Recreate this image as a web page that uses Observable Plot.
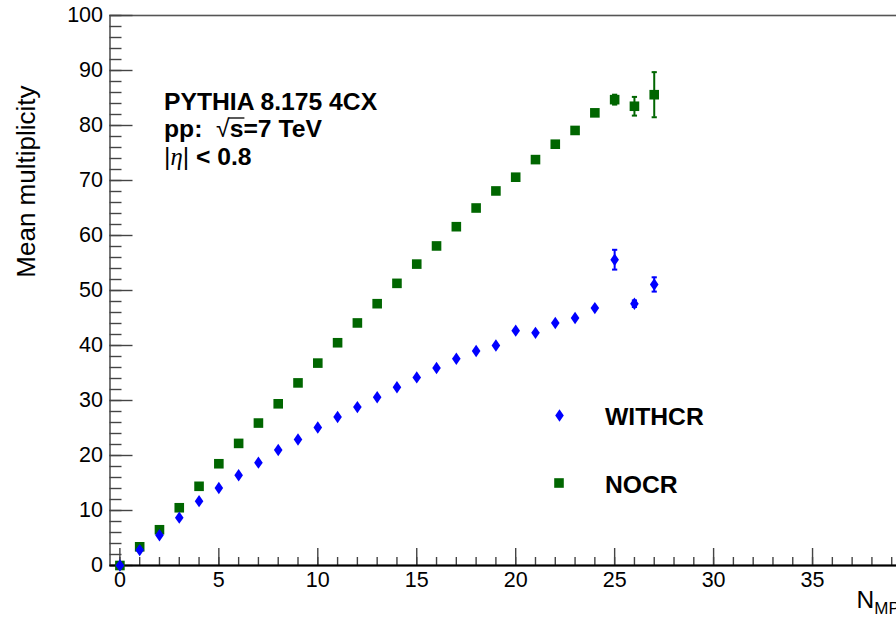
<!DOCTYPE html>
<html><head><meta charset="utf-8">
<script src="https://cdn.jsdelivr.net/npm/d3@7"></script>
<script src="https://cdn.jsdelivr.net/npm/@observablehq/plot@0.6"></script>
<style>
html,body{margin:0;padding:0;background:#fff;overflow:hidden;width:896px;height:617px;}
#chart{width:896px;height:617px;overflow:hidden;}
#chart svg{display:block;max-width:none !important;}
</style></head><body><div id="chart"></div>
<script>
// ---- data ----
const nmpi      = [0,1,2,3,4,5,6,7,8,9,10,11,12,13,14,15,16,17,18,19,20,21,22,23,24,25,26,27];
const withcr    = [0,2.8,5.5,8.7,11.7,14.1,16.4,18.7,21.0,22.9,25.1,27.0,28.8,30.6,32.4,34.2,35.9,37.6,39.0,40.0,42.7,42.3,44.1,45.0,46.8,55.6,47.6,51.1];
const withcrErr = [0,0,0,0,0,0,0,0,0,0,0,0,0,0,0,0,0,0,0,0,0,0,0,0,0,1.8,0.6,1.3];
const nocr      = [0,3.4,6.5,10.5,14.4,18.5,22.2,25.9,29.4,33.2,36.8,40.5,44.1,47.6,51.3,54.8,58.1,61.6,65.0,68.1,70.6,73.8,76.6,79.1,82.3,84.7,83.5,85.6];
const nocrErr   = [0,0,0,0,0,0,0,0,0,0,0,0,0,0,0,0,0,0,0,0,0,0,0,0,0,0.9,1.7,4.1];
const seriesNames = ["WITHCR", "NOCR"];
const xMajor  = [0,5,10,15,20,25,30,35,40];
const xLabels = [0,5,10,15,20,25,30,35];
const xMinor = [0,1,2,3,4,5,6,7,8,9,10,11,12,13,14,15,16,17,18,19,20,21,22,23,24,25,26,27,28,29,30,31,32,33,34,35,36,37,38,39,40];
const yMajor = [0,10,20,30,40,50,60,70,80,90,100];
const yMinor = [0,2,4,6,8,10,12,14,16,18,20,22,24,26,28,30,32,34,36,38,40,42,44,46,48,50,52,54,56,58,60,62,64,66,68,70,72,74,76,78,80,82,84,86,88,90,92,94,96,98,100];
const yTitle = "Mean multiplicity";
const xTitle = "NMPI";
const infoLines = ["PYTHIA 8.175 4CX", "pp:  \u221As=7 TeV", "|\u03B7| < 0.8"];

const BLUE = "#0000ff", GREEN = "#006600";

const rowsW = nmpi.map((n, i) => ({n, v: withcr[i], e: withcrErr[i]}));
const rowsN = nmpi.map((n, i) => ({n, v: nocr[i], e: nocrErr[i]}));

const diamond = {draw(c) { const w = 4.3, h = 6.2; c.moveTo(0, -h); c.lineTo(w, 0); c.lineTo(0, h); c.lineTo(-w, 0); c.closePath(); }};
const square  = {draw(c) { const s = 4.8; c.moveTo(-s, -s); c.lineTo(s, -s); c.lineTo(s, s); c.lineTo(-s, s); c.closePath(); }};
const cap     = {draw(c) { c.moveTo(-2.6, 0); c.lineTo(2.6, 0); }};

function errMarks(rows, color) {
  const r = rows.filter(d => d.e > 0);
  return [
    Plot.ruleX(r, {x: "n", y1: d => d.v - d.e, y2: d => d.v + d.e, stroke: color, strokeWidth: 2}),
    Plot.dot(r, {x: "n", y: d => d.v + d.e, symbol: cap, stroke: color, strokeWidth: 2, fill: "none"}),
    Plot.dot(r, {x: "n", y: d => d.v - d.e, symbol: cap, stroke: color, strokeWidth: 2, fill: "none"})
  ];
}

const FONT = "'Liberation Sans', Arial, Helvetica, sans-serif";
const TICK = "#444";
const TXT = {textAnchor: "start", lineAnchor: "middle", fontSize: 24.7, fontWeight: "bold", fontFamily: FONT, frameAnchor: "top-left"};

const plot = Plot.plot({
  width: 931, height: 617,
  marginLeft: 109.5, marginRight: 20, marginTop: 15, marginBottom: 52,
  style: {fontFamily: FONT, fontSize: "21.5px", background: "white", color: "black", overflow: "visible", maxWidth: "none"},
  x: {domain: [-0.5, 40]},
  y: {domain: [0, 100]},
  marks: [
    Plot.frame({stroke: "#555", strokeWidth: 1.6}),
    // y ticks (inward)
    Plot.axisY({ticks: yMinor, tickSize: 12, dx: 12, tickFormat: () => "", stroke: TICK, strokeWidth: 1.4, label: null}),
    Plot.axisY({ticks: yMajor, tickSize: 23, dx: 23, tickFormat: () => "", stroke: TICK, strokeWidth: 1.4, label: null}),
    Plot.axisY({ticks: yMajor, tickSize: 0, tickPadding: 7, label: null}),
    // x ticks (inward)
    Plot.axisX({ticks: xMinor, tickSize: 8, dy: -8, tickFormat: () => "", stroke: TICK, strokeWidth: 1.4, label: null}),
    Plot.axisX({ticks: xMajor, tickSize: 17, dy: -17, tickFormat: () => "", stroke: TICK, strokeWidth: 1.4, label: null}),
    Plot.axisX({ticks: xLabels, tickSize: 0, tickPadding: 6, label: null}),
    Plot.ruleY([0], {stroke: "black", strokeWidth: 2.2}),
    // axis titles
    Plot.text([yTitle], {frameAnchor: "top-left", dx: -83, dy: 70, rotate: -90, textAnchor: "end", lineAnchor: "middle", fontSize: 26, fontFamily: FONT}),
    Plot.text([xTitle], {frameAnchor: "bottom-right", dx: -7, dy: 35, textAnchor: "end", lineAnchor: "middle", fontSize: 24.5, fontFamily: FONT}),
    // data
    ...errMarks(rowsN, GREEN),
    ...errMarks(rowsW, BLUE),
    Plot.dot(rowsN, {x: "n", y: "v", symbol: square, fill: GREEN, stroke: "none"}),
    Plot.dot(rowsW, {x: "n", y: "v", symbol: diamond, fill: BLUE, stroke: "none"}),
    // info text
    Plot.text([infoLines[0]], {...TXT, dx: 54, dy: 87}),
    Plot.text([infoLines[1]], {...TXT, dx: 54, dy: 114}),
    Plot.text([infoLines[2]], {...TXT, dx: 54, dy: 142}),
    // legend
    Plot.dot([seriesNames[0]], {frameAnchor: "top-left", dx: 449.5, dy: 400, symbol: diamond, fill: BLUE, stroke: "none"}),
    Plot.dot([seriesNames[1]], {frameAnchor: "top-left", dx: 449, dy: 467.5, symbol: square, fill: GREEN, stroke: "none"}),
    Plot.text([seriesNames[0]], {...TXT, dx: 495, dy: 401.5}),
    Plot.text([seriesNames[1]], {...TXT, dx: 495, dy: 470})
  ]
});
document.getElementById("chart").appendChild(plot);

// rich text post-processing (subscript, greek, radical)
const svg = d3.select(plot);
function rebuild(match, parts) {
  svg.selectAll("text").filter(function() { return this.textContent === match; }).each(function() {
    const textEl = this;
    const t = d3.select(this).text(null).style("white-space", "pre");
    parts.forEach(p => {
      const s = t.append("tspan").text(p.t);
      if (p.w) s.attr("font-weight", p.w);
      if (p.f) s.attr("font-family", p.f);
      if (p.i) s.attr("font-style", "italic");
      if (p.dy) s.attr("dy", p.dy);
      if (p.size) s.attr("font-size", p.size);
      if (p.bar) {
        const fs = parseFloat(getComputedStyle(textEl).fontSize) || 24.7;
        const b = s.node().getBBox();
        const yb = b.y + 0.905 * fs - 0.80 * fs;
        d3.select(textEl.parentNode).append("line")
          .attr("transform", textEl.getAttribute("transform"))
          .attr("x1", b.x - 1).attr("x2", b.x + b.width + 1)
          .attr("y1", yb).attr("y2", yb)
          .attr("stroke", "black").attr("stroke-width", 1.3);
      }
    });
  });
}
rebuild(infoLines[1], [{t: "pp:  "}, {t: "\u221A", w: "normal"}, {t: "s", bar: true}, {t: "=7 TeV"}]);
rebuild(infoLines[2], [{t: "|", w: "normal"}, {t: "\u03B7", w: "normal", i: true, f: "'Liberation Serif', serif"}, {t: "|", w: "normal"}, {t: " < 0.8"}]);
rebuild(xTitle, [{t: "N"}, {t: "MPI", size: 17, dy: 6}]);
</script>
</body></html>
